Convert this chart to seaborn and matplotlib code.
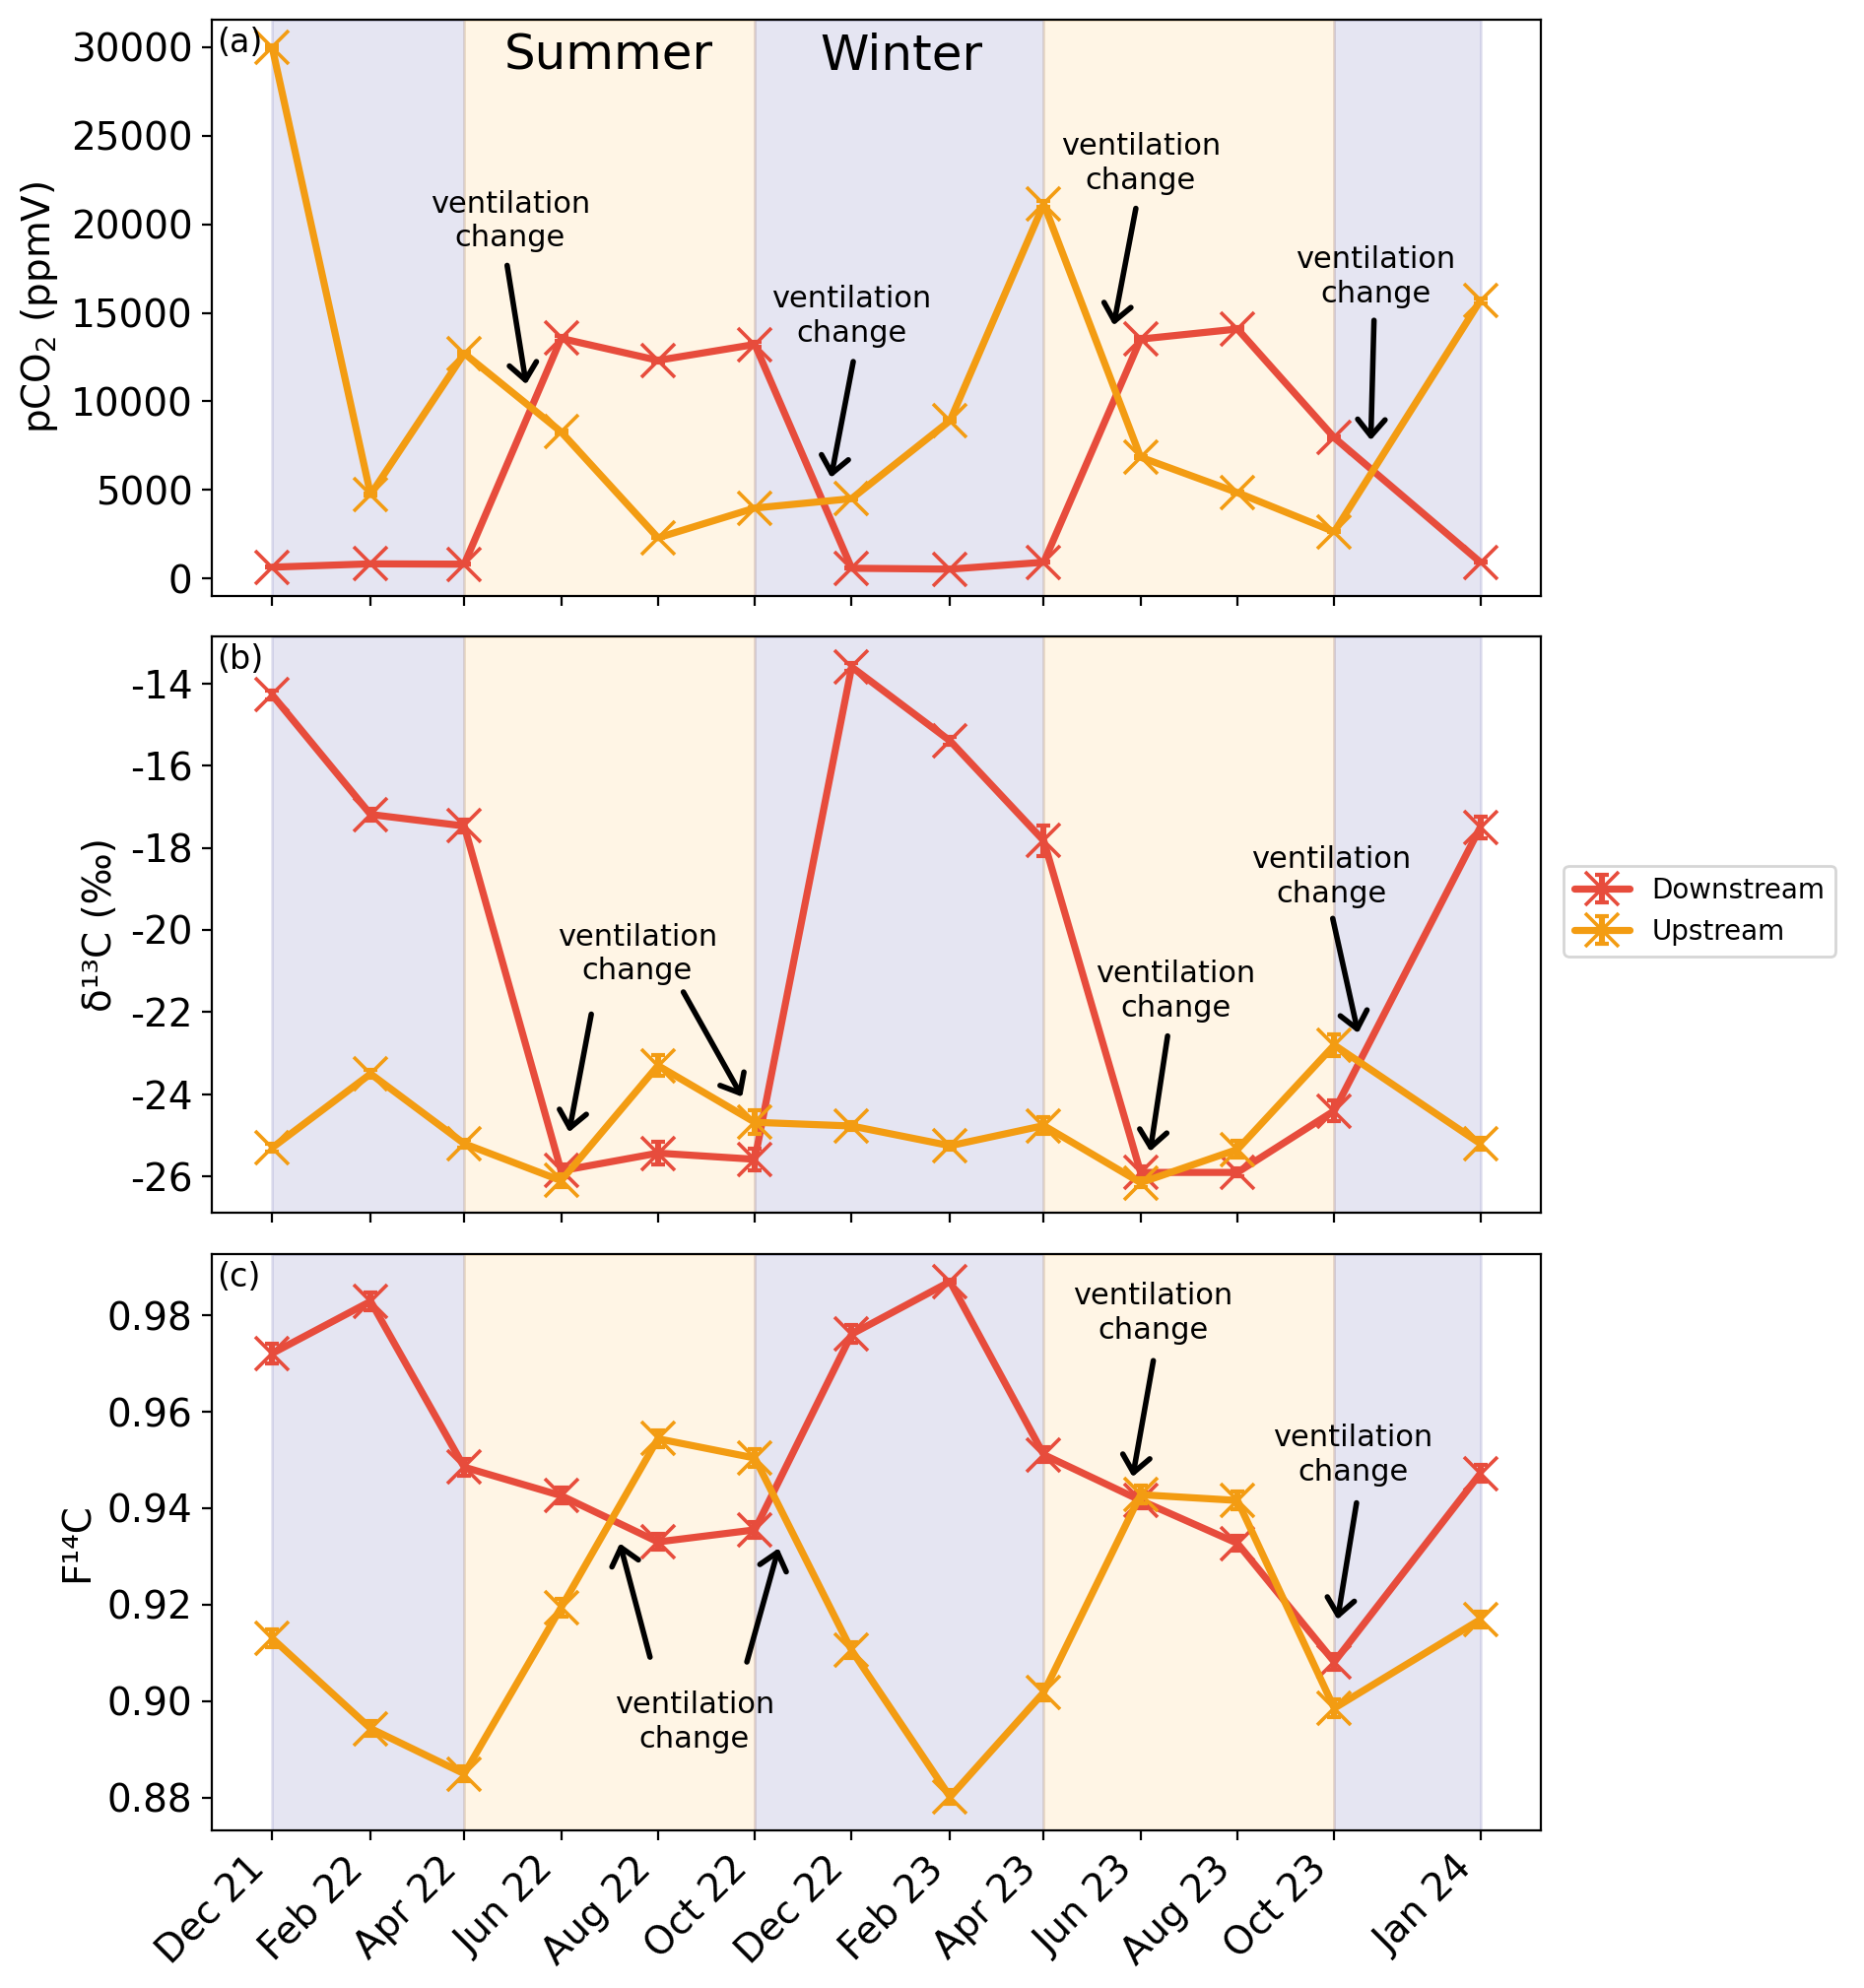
"""Seasonal pCO2, d13C and F14C time series, downstream vs upstream."""

import matplotlib.pyplot as plt
import numpy as np
import pandas as pd
import seaborn as sns
from matplotlib.ticker import MultipleLocator


DATES = pd.to_datetime([
    "2021-12-01", "2022-02-01", "2022-04-01", "2022-06-01", "2022-08-01",
    "2022-10-01", "2022-12-01", "2023-02-01", "2023-04-01", "2023-06-01",
    "2023-08-01", "2023-10-01", "2024-01-01",
])
TICK_LABELS = [
    "Dec 21", "Feb 22", "Apr 22", "Jun 22", "Aug 22", "Oct 22", "Dec 22",
    "Feb 23", "Apr 23", "Jun 23", "Aug 23", "Oct 23", "Jan 24",
]

PCO2_DOWN = [640, 830, 810, 13560, 12320, 13220, 580, 530, 920, 13520, 14090, 7950, 920]
PCO2_UP = [30000, 4740, 12710, 8280, 2300, 3980, 4510, 8920, 21150, 6850, 4850, 2640, 15700]
PCO2_DOWN_ERR = [20, 25, 25, 120, 110, 120, 20, 20, 30, 120, 130, 70, 30]
PCO2_UP_ERR = [100, 45, 110, 80, 25, 40, 45, 80, 180, 60, 45, 25, 140]

D13C_DOWN = [-14.28, -17.19, -17.47, -25.86, -25.43, -25.58, -13.60, -15.40, -17.83, -25.90, -25.90, -24.40, -17.50]
D13C_UP = [-25.30, -23.50, -25.20, -26.10, -23.30, -24.68, -24.77, -25.25, -24.76, -26.15, -25.34, -22.80, -25.20]
D13C_DOWN_ERR = [0.10, 0.15, 0.15, 0.15, 0.28, 0.26, 0.10, 0.10, 0.38, 0.15, 0.10, 0.25, 0.26]
D13C_UP_ERR = [0.10, 0.10, 0.10, 0.15, 0.25, 0.29, 0.10, 0.10, 0.20, 0.10, 0.20, 0.26, 0.15]

F14C_DOWN = [0.9721, 0.9829, 0.9485, 0.9426, 0.9330, 0.9355, 0.9761, 0.9870, 0.9511, 0.9416, 0.9327, 0.9081, 0.9472]
F14C_UP = [0.9130, 0.8943, 0.8849, 0.9194, 0.9544, 0.9504, 0.9105, 0.8801, 0.9018, 0.9428, 0.9416, 0.8985, 0.9169]
F14C_DOWN_ERR = [0.0020, 0.0018, 0.0018, 0.0016, 0.0016, 0.0016, 0.0018, 0.0003, 0.0016, 0.0016, 0.0016, 0.0016, 0.0018]
F14C_UP_ERR = [0.0018, 0.0016, 0.0016, 0.0018, 0.0018, 0.0018, 0.0016, 0.0015, 0.0016, 0.0018, 0.0018, 0.0018, 0.0016]

SEASON_STARTS = pd.to_datetime(["2021-12-01", "2022-04-01", "2022-10-01", "2023-04-01", "2023-10-01"])
SEASON_ENDS = pd.to_datetime(["2022-04-01", "2022-10-01", "2023-04-01", "2023-10-01", "2024-01-01"])
SEASON_NAMES = ["Winter", "Summer", "Winter", "Summer", "Winter"]

SITES = ["Downstream", "Upstream"]
COLORS = {"Downstream": "#e74c3c", "Upstream": "#f39c12", "Winter": "navy", "Summer": "orange"}

NOTE = "ventilation\nchange"
# (panel, text position, list of arrows (tail, head))
ANNOTATIONS = [
    (0, ("2022-04-30", 20180), [(("2022-04-28", 17680), ("2022-05-10", 10970))]),
    (0, ("2022-12-01", 14800), [(("2022-12-02", 12250), ("2022-11-18", 5700))]),
    (0, ("2023-06-01", 23450), [(("2023-05-29", 20900), ("2023-05-15", 14300))]),
    (0, ("2023-10-27", 17020), [(("2023-10-26", 14580), ("2023-10-24", 7810))]),
    (1, ("2022-07-19", -20.59), [(("2022-06-20", -22.05), ("2022-06-06", -24.92)),
                                 (("2022-08-17", -21.51), ("2022-09-23", -24.06))]),
    (1, ("2023-06-23", -21.49), [(("2023-06-18", -22.58), ("2023-06-07", -25.39))]),
    (1, ("2023-09-29", -18.70), [(("2023-09-30", -19.72), ("2023-10-16", -22.51))]),
    (2, ("2022-08-24", 0.8957), [(("2022-07-27", 0.9091), ("2022-07-08", 0.9327)),
                                 (("2022-09-26", 0.9081), ("2022-10-16", 0.9317))]),
    (2, ("2023-06-09", 0.9805), [(("2023-06-09", 0.9706), ("2023-05-27", 0.9465))]),
    (2, ("2023-10-13", 0.9510), [(("2023-10-15", 0.9411), ("2023-10-03", 0.9169))]),
]


sns.set_style("ticks", rc={
    "axes.edgecolor": "black", "text.color": "black", "axes.labelcolor": "black",
    "xtick.color": "black", "ytick.color": "black",
})
plt.rcParams["font.family"] = ["DejaVu Sans"]
plt.rcParams["axes.unicode_minus"] = False

fig, axes = plt.subplots(3, 1, figsize=(9.46, 10.09), dpi=200, sharex=True)
fig.subplots_adjust(left=0.1136, right=0.8266, top=0.9903, bottom=0.0793, hspace=0.071)

panels = [
    ("pCO$_2$ (ppmV)", PCO2_DOWN, PCO2_UP, PCO2_DOWN_ERR, PCO2_UP_ERR),
    ("δ¹³C (‰)", D13C_DOWN, D13C_UP, D13C_DOWN_ERR, D13C_UP_ERR),
    ("F¹⁴C", F14C_DOWN, F14C_UP, F14C_DOWN_ERR, F14C_UP_ERR),
]

legend_handles = []
for i, (ax, (label, down, up, down_err, up_err)) in enumerate(zip(axes, panels)):
    for start, end, name in zip(SEASON_STARTS, SEASON_ENDS, SEASON_NAMES):
        ax.axvspan(start, end, color=COLORS[name], alpha=0.1, zorder=0)

    for site, vals, errs in [("Downstream", down, down_err), ("Upstream", up, up_err)]:
        df = pd.DataFrame({"date": DATES, "value": vals})
        sns.lineplot(data=df, x="date", y="value", ax=ax, color=COLORS[site],
                     marker="x", markersize=12, markeredgewidth=1.3,
                     markeredgecolor=COLORS[site], linewidth=2.6, zorder=3)
        line = ax.lines[-1]
        eb = ax.errorbar(DATES, vals, yerr=errs, fmt="none", ecolor=COLORS[site],
                         elinewidth=2.2, capsize=2.5, capthick=1.5, zorder=3)
        if i == 1:
            legend_handles.append((line, eb))

    ax.set_ylabel(label, fontsize=14)
    ax.set_xlabel("")
    ax.tick_params(labelsize=14)
    ax.text(0.004, 0.988, f"({'abc'[i]})", transform=ax.transAxes,
            ha="left", va="top", fontsize=12)

axes[1].yaxis.set_major_locator(MultipleLocator(2))

axes[0].text(pd.Timestamp("2022-07-01"), 29500, "Summer", fontsize=18, ha="center", va="center")
axes[0].text(pd.Timestamp("2023-01-01"), 29500, "Winter", fontsize=18, ha="center", va="center")

for panel, (tx, ty), arrows in ANNOTATIONS:
    ax = axes[panel]
    ax.text(pd.Timestamp(tx), ty, NOTE, fontsize=11, ha="center", va="center",
            linespacing=1.25, zorder=5)
    for (x0, y0), (x1, y1) in arrows:
        ax.annotate("", xy=(pd.Timestamp(x1), y1), xytext=(pd.Timestamp(x0), y0),
                    arrowprops=dict(arrowstyle="->,head_length=0.3,head_width=0.25",
                                    color="black", lw=2, mutation_scale=20,
                                    shrinkA=0, shrinkB=0),
                    zorder=5)

axes[2].set_xticks(DATES)
axes[2].set_xticklabels(TICK_LABELS, rotation=45, ha="right")

axes[1].legend(legend_handles, SITES, loc="center left", bbox_to_anchor=(1.007, 0.524),
               fontsize=10)

fig.savefig("out.png", dpi=200)
